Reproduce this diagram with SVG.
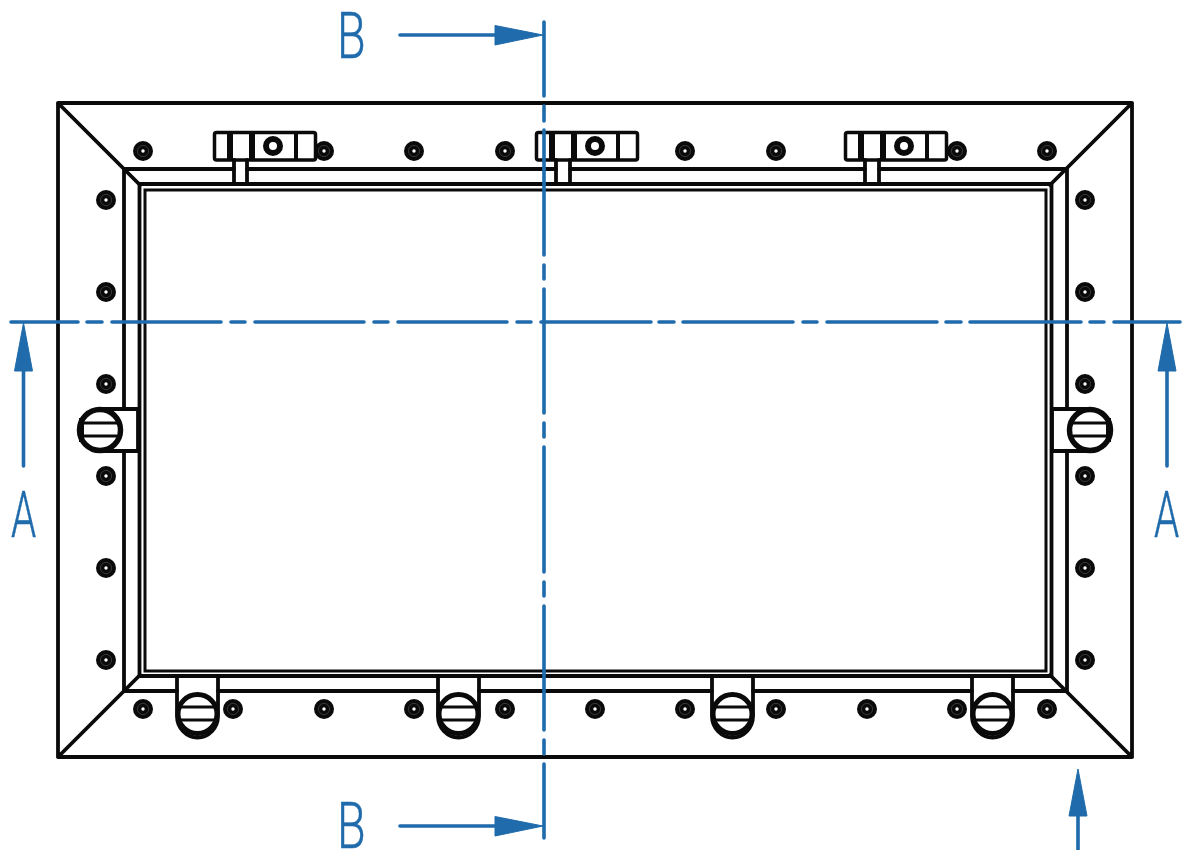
<svg xmlns="http://www.w3.org/2000/svg" width="1186" height="850" viewBox="0 0 1186 850">
<style>
.k{fill:none;stroke:#0a0a0a;stroke-width:3.8;stroke-linecap:round;stroke-linejoin:round}
.t{fill:none;stroke:#0a0a0a;stroke-width:3;stroke-linecap:butt}
.b{fill:none;stroke:#1f6bab;stroke-width:3.6;stroke-linecap:round}
.h{fill:#1f6bab;stroke:#1f6bab;stroke-width:1;stroke-linejoin:round}
.l{fill:#1f6bab;stroke:#1f6bab;stroke-width:0.5;font-family:"Roboto","Liberation Sans",sans-serif;font-weight:300;font-size:65px}
</style>
<defs>
<g id="bolt"><circle r="10" fill="#0a0a0a"/><circle r="5.6" fill="none" stroke="#555" stroke-width="0.6"/><circle r="1.7" fill="#fff"/></g>
<g id="latchV">
<path class="k" d="M-20.500 -38V2A20.500 21.500 0 0 0 20.500 2V-38"/>
<circle cy="0" r="19.500" fill="#fff" stroke="#0a0a0a" stroke-width="5"/>
<path class="t" d="M-17 -7H17M-18 6H18"/>
</g>
</defs>
<rect width="1186" height="850" fill="#fff"/>
<g id="frame">
<path class="k" d="M58 103H1132V757H58ZM58 103L140 185M1132 103L1050 185M58 757L140 675M1132 757L1050 675"/>
<path class="k" d="M124 169V409M124 451V691H177M218 691H438M479 691H712M753 691H972M1013 691H1067V451M1067 409V169H879M865 169H570M556 169H247M234 169H124"/>
<path class="k" d="M139.500 184H1051.500V676H139.500Z"/>
<path class="t" d="M145 190H1046V671H145Z"/>
</g>
<g id="bolts">
<use href="#bolt" x="143" y="151"/><use href="#bolt" x="324" y="151"/><use href="#bolt" x="414" y="151"/><use href="#bolt" x="505" y="151"/><use href="#bolt" x="685" y="151"/><use href="#bolt" x="776" y="151"/><use href="#bolt" x="957" y="151"/><use href="#bolt" x="1047" y="151"/>
<use href="#bolt" x="143" y="709"/><use href="#bolt" x="233" y="709"/><use href="#bolt" x="324" y="709"/><use href="#bolt" x="414" y="709"/><use href="#bolt" x="505" y="709"/><use href="#bolt" x="595" y="709"/><use href="#bolt" x="685" y="709"/><use href="#bolt" x="776" y="709"/><use href="#bolt" x="867" y="709"/><use href="#bolt" x="957" y="709"/><use href="#bolt" x="1047" y="709"/>
<use href="#bolt" x="106" y="200"/><use href="#bolt" x="106" y="292"/><use href="#bolt" x="106" y="384"/><use href="#bolt" x="106" y="476"/><use href="#bolt" x="106" y="568"/><use href="#bolt" x="106" y="660"/>
<use href="#bolt" x="1085" y="200"/><use href="#bolt" x="1085" y="292"/><use href="#bolt" x="1085" y="384"/><use href="#bolt" x="1085" y="476"/><use href="#bolt" x="1085" y="568"/><use href="#bolt" x="1085" y="660"/>
</g>
<g id="hinge-1"><rect x="214.500" y="132.500" width="101" height="27.500" rx="2" fill="#fff" stroke="#0a0a0a" stroke-width="3.500"/><path fill="#0a0a0a" d="M227 132h6v28h-6zM249 132h6v28h-6zM294 132h4v28h-4z"/><circle cx="273" cy="146" r="7" fill="#fff" stroke="#0a0a0a" stroke-width="6"/><path class="k" d="M234 160V184M247 160V184"/></g>
<g id="hinge-2"><rect x="536.500" y="132.500" width="101" height="27.500" rx="2" fill="#fff" stroke="#0a0a0a" stroke-width="3.500"/><path fill="#0a0a0a" d="M549 132h6v28h-6zM571 132h6v28h-6zM616 132h4v28h-4z"/><circle cx="595" cy="146" r="7" fill="#fff" stroke="#0a0a0a" stroke-width="6"/><path class="k" d="M556 160V184M570 160V184"/></g>
<g id="hinge-3"><rect x="845.500" y="132.500" width="101" height="27.500" rx="2" fill="#fff" stroke="#0a0a0a" stroke-width="3.500"/><path fill="#0a0a0a" d="M858 132h6v28h-6zM880 132h6v28h-6zM925 132h4v28h-4z"/><circle cx="904" cy="146" r="7" fill="#fff" stroke="#0a0a0a" stroke-width="6"/><path class="k" d="M865 160V184M879 160V184"/></g>
<g id="latch-left"><path class="k" d="M100 409H138V451H100"/><circle cx="100" cy="430" r="20.500" fill="#fff" stroke="#0a0a0a" stroke-width="5.500"/><path fill="#0a0a0a" d="M79 418h5v24h-5z"/><path class="t" d="M84 423H117M84 436H117"/></g>
<g id="latch-right"><path class="k" d="M1090 409H1052V451H1090"/><circle cx="1090" cy="430" r="20.500" fill="#fff" stroke="#0a0a0a" stroke-width="5.500"/><path fill="#0a0a0a" d="M1106 418h5v24h-5z"/><path class="t" d="M1073 423H1106M1073 436H1106"/></g>
<g id="latch-b1"><use href="#latchV" x="197.500" y="714"/></g>
<g id="latch-b2"><use href="#latchV" x="458.500" y="714"/></g>
<g id="latch-b3"><use href="#latchV" x="732.500" y="714"/></g>
<g id="latch-b4"><use href="#latchV" x="992.500" y="714"/></g>
<g id="section-lines">
<path class="b" d="M544 22V96M544 106V121M544 130V255M544 265V279M544 289V413M544 423V437M544 447V572M544 582V596M544 606V730M544 740V754M544 764V838"/>
<path class="b" d="M11 322H78M87 322H102M112 322H221M231 322H245M255 322H364M374 322H388M398 322H507M517 322H531M541 322H651M659 322H674M683 322H793M803 322H817M827 322H937M946 322H961M970 322H1081M1090 322H1104M1114 322H1180"/>
<path class="b" d="M400 35H500M400 826H500M23.500 466V365M1167 466V365M1078 850V810"/>
<path class="h" d="M495 25.500L543 35L495 45ZM495 816.500L543 826L495 836ZM23.500 323L14.500 371H32.500ZM1167 323L1158 371H1176ZM1078 769L1069 816H1087Z"/>
</g>
<g id="labels">
<text class="l" transform="translate(337 58) scale(.72 1)">B</text>
<text class="l" transform="translate(337 848) scale(.72 1)">B</text>
<text class="l" transform="translate(11 537) scale(.62 1)">A</text>
<text class="l" transform="translate(1154 537) scale(.62 1)">A</text>
</g>
</svg>
